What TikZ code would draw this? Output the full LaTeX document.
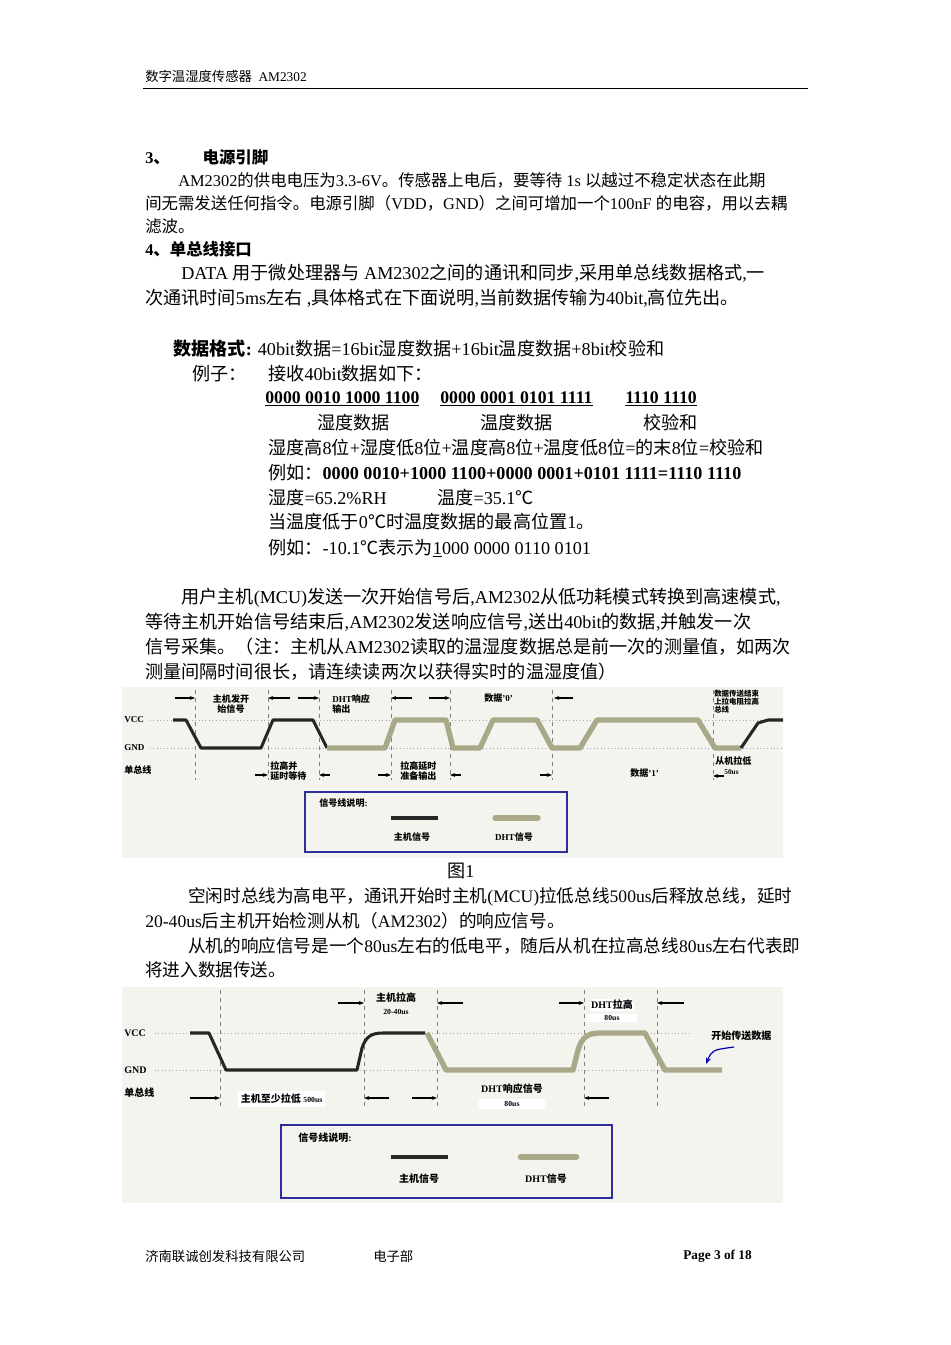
\documentclass[tikz,border=0pt]{standalone}
\usepackage{fontspec}
\usetikzlibrary{arrows.meta}
\setmainfont{Liberation Serif}
\newfontfamily\cjk{Noto Sans CJK SC}
\XeTeXinterchartokenstate=1
\newXeTeXintercharclass\cjkclass
\newcount\cc
\cc="4E00 \loop \XeTeXcharclass\cc=\cjkclass \advance\cc 1 \ifnum\cc<"9FFF \repeat
\cc="3000 \loop \XeTeXcharclass\cc=\cjkclass \advance\cc 1 \ifnum\cc<"3040 \repeat
\cc="FF00 \loop \XeTeXcharclass\cc=\cjkclass \advance\cc 1 \ifnum\cc<"FF20 \repeat
\XeTeXcharclass"2103=\cjkclass
\XeTeXinterchartoks 0 \cjkclass={\begingroup\cjk}
\XeTeXinterchartoks 4095 \cjkclass={\begingroup\cjk}
\XeTeXinterchartoks \cjkclass 0={\endgroup}
\XeTeXinterchartoks \cjkclass 4095={\endgroup}
\definecolor{dht}{HTML}{A9A98A}
\definecolor{bgc}{HTML}{F4F4EF}
\definecolor{lgb}{HTML}{2E2E9A}
\newcounter{tn}
\newcommand{\T}[4][]{\stepcounter{tn}\node[anchor=west,inner sep=0pt,#1] (t\arabic{tn}) at (#2,#3) {#4};}
\tikzset{
 body/.style={font=\fontsize{12.3}{14}\selectfont},
 big/.style={font=\fontsize{13.6}{16}\selectfont},
 mid/.style={font=\fontsize{13.2}{16}\selectfont},
 tiny/.style={font=\fontsize{6.8}{7.6}\selectfont\bfseries,align=left},
 tinyc/.style={font=\fontsize{6.8}{7.6}\selectfont\bfseries,align=center,anchor=center},
 host/.style={line width=2.3pt,black!85,line join=round},
 dhts/.style={line width=4pt,dht,line join=round},
 vdash/.style={gray,dashed,line width=0.5pt},
 hdot/.style={gray!70,dotted,line width=0.6pt},
 mk/.style={-{Stealth[length=4pt]},line width=0.8pt},
}
\begin{document}
\begin{tikzpicture}[x=0.75pt,y=-0.75pt]
\useasboundingbox (0,0) rectangle (950,1345);
\fill[white] (0,0) rectangle (950,1345);
% header
\T[font=\fontsize{10}{12}\selectfont]{145}{76}{数字温湿度传感器\ \ AM2302}
\draw[line width=0.6pt] (143,88) -- (808,88);
\T[body,font=\fontsize{12.3}{14}\selectfont\bfseries]{145}{157}{3、\qquad 电源引脚}
\T[body]{178}{180}{AM2302的供电电压为3.3-6V。传感器上电后，要等待 1s 以越过不稳定状态在此期}
\T[body]{145}{203}{间无需发送任何指令。电源引脚（VDD，GND）之间可增加一个100nF 的电容，用以去耦}
\T[body]{145}{226}{滤波。}
\T[body,font=\fontsize{12.3}{14}\selectfont\bfseries]{145}{249}{4、单总线接口}
\T[big]{181}{273}{DATA 用于微处理器与 AM2302之间的通讯和同步,采用单总线数据格式,一}
\T[big]{145}{298}{次通讯时间5ms左右 ,具体格式在下面说明,当前数据传输为40bit,高位先出。}
\T[big]{173}{349}{\textbf{数据格式:} 40bit数据=16bit湿度数据+16bit温度数据+8bit校验和}
\T[big]{192}{374}{例子：}
\T[big]{268}{374}{接收40bit数据如下：}
\T[big,font=\fontsize{13.3}{15}\selectfont\bfseries]{265}{399}{\underline{0000 0010 1000 1100}}
\T[big,font=\fontsize{13.3}{15}\selectfont\bfseries]{440}{399}{\underline{0000 0001 0101 1111}}
\T[big,font=\fontsize{13.3}{15}\selectfont\bfseries]{625}{399}{\underline{1110 1110}}
\T[big]{317}{423}{湿度数据}
\T[big]{480}{423}{温度数据}
\T[big]{643}{423}{校验和}
\T[big]{268}{448}{湿度高8位+湿度低8位+温度高8位+温度低8位=的末8位=校验和}
\T[big]{268}{473}{例如：\textbf{0000 0010+1000 1100+0000 0001+0101 1111=1110 1110}}
\T[big]{268}{498}{湿度=65.2\%RH}
\T[big]{437}{498}{温度=35.1℃}
\T[big]{268}{522}{当温度低于0℃时温度数据的最高位置1。}
\T[big]{268}{548}{例如：-10.1℃表示为\underline{1}000 0000 0110 0101}
\T[big]{181}{598}{用户主机(MCU)发送一次开始信号后,AM2302从低功耗模式转换到高速模式,}
\T[big]{145}{622}{等待主机开始信号结束后,AM2302发送响应信号,送出40bit的数据,并触发一次}
\T[big]{145}{647}{信号采集。（注：主机从AM2302读取的温湿度数据总是前一次的测量值，如两次}
\T[big]{145}{672}{测量间隔时间很长，请连续读两次以获得实时的温湿度值）}
% ---------- Figure 1
\fill[bgc] (122,687) rectangle (783,858);
\draw[hdot] (150,720) -- (783,720);
\draw[hdot] (150,748) -- (783,748);
\T[tiny]{124}{720}{VCC}
\T[tiny]{124}{748}{GND}
\T[tiny]{124}{770}{单总线}
\foreach \x in {195,268,319,391,450,552,713} \draw[vdash] (\x,690) -- (\x,780);
\draw[host] (173,720) -- (186,720) -- (201,748) -- (261,748) -- (273,720) -- (313,720) -- (327,748);
\draw[dhts] (327,748) -- (385,748) -- (395,720) -- (446,720) -- (453,748) -- (480,748) -- (493,720) -- (537,720) -- (552,748) -- (580,748) -- (597,720) -- (698,720) -- (715,748) -- (741,748);
\draw[host] (741,748) -- (758,723) -- (768,720) -- (783,720);
\draw[mk] (175,698) -- (195,698);
\draw[mk] (290,698) -- (268,698);
\draw[mk] (298,698) -- (319,698);
\draw[mk] (412,698) -- (391,698);
\draw[mk] (429,698) -- (450,698);
\draw[mk] (573,698) -- (554,698);
\draw[mk] (255,775) -- (268,775);
\draw[mk] (330,775) -- (319,775);
\draw[mk] (378,775) -- (391,775);
\draw[mk] (461,775) -- (450,775);
\draw[mk] (540,775) -- (552,775);
\draw[mk] (724,776) -- (713,776);
\T[tinyc]{231}{704}{主机发开\\始信号}
\T[tiny]{332}{704}{DHT响应\\输出}
\T[tiny]{484}{698}{数据'0'}
\T[tiny,font=\fontsize{5.6}{6}\selectfont\bfseries]{714}{702}{数据传送结束\\上拉电阻拉高\\总线}
\T[tiny]{270}{771}{拉高并\\延时等待}
\T[tiny]{400}{771}{拉高延时\\准备输出}
\T[tiny]{630}{773}{数据'1'}
\T[tiny]{715}{766}{从机拉低\\\ \ \ \ {\fontsize{5.5}{6}\selectfont 50us}}
\draw[lgb,line width=1pt] (305,792) rectangle (567,852);
\T[tiny]{319}{803}{信号线说明:}
\draw[line width=2.3pt,black!85] (391,818) -- (438,818);
\draw[line width=4pt,dht,line cap=round] (495,818) -- (538,818);
\T[tinyc]{412}{837}{主机信号}
\T[tinyc]{514}{837}{DHT信号}
\T[big]{447}{871}{图1}
\T[mid]{188}{897}{空闲时总线为高电平，通讯开始时主机(MCU)拉低总线500us后释放总线，延时}
\T[mid]{145}{921}{20-40us后主机开始检测从机（AM2302）的响应信号。}
\T[mid]{188}{946}{从机的响应信号是一个80us左右的低电平，随后从机在拉高总线80us左右代表即}
\T[mid]{145}{970}{将进入数据传送。}
% ---------- Figure 2
\fill[bgc] (122,987) rectangle (783,1203);
\draw[hdot] (155,1033) -- (690,1033);
\draw[hdot] (155,1070) -- (690,1070);
\T[tiny,font=\fontsize{7.5}{8}\selectfont\bfseries]{124}{1033}{VCC}
\T[tiny,font=\fontsize{7.5}{8}\selectfont\bfseries]{124}{1070}{GND}
\T[tiny,font=\fontsize{7.5}{8}\selectfont\bfseries]{124}{1093}{单总线}
\foreach \x in {220,364,437,584,657} \draw[vdash] (\x,990) -- (\x,1107);
\draw[host] (190,1033) -- (209,1033) -- (226,1070) -- (357,1070) -- (362,1048) .. controls (366,1036) and (372,1033) .. (383,1033) -- (425,1033);
\draw[dhts] (427,1033) -- (446,1070) -- (573,1070) -- (578,1050) .. controls (582,1037) and (588,1033) .. (600,1033) -- (645,1033) -- (665,1070) -- (722,1070);
\draw[mk] (338,1003) -- (364,1003);
\draw[mk] (463,1003) -- (437,1003);
\draw[mk] (559,1003) -- (584,1003);
\draw[mk] (684,1003) -- (657,1003);
\draw[mk] (190,1098) -- (220,1098);
\draw[mk] (389,1098) -- (364,1098);
\draw[mk] (412,1098) -- (437,1098);
\draw[mk] (609,1098) -- (584,1098);
\T[tinyc,font=\fontsize{7.5}{8}\selectfont\bfseries]{396}{998}{主机拉高}
\T[tinyc,font=\fontsize{5.8}{6}\selectfont\bfseries]{396}{1012}{20-40us}
\T[tinyc,font=\fontsize{7.5}{8}\selectfont\bfseries,fill=white,inner sep=1pt]{612}{1005}{DHT拉高}
\T[tinyc,font=\fontsize{5.8}{6}\selectfont\bfseries,fill=white,inner sep=1pt,minimum width=38pt]{612}{1018}{80us}
\T[tiny,font=\fontsize{7.5}{8}\selectfont\bfseries]{711}{1036}{开始传送数据}
\draw[-{Stealth[length=5pt]},blue!70!black,line width=0.9pt] (734,1047) .. controls (712,1050) .. (706,1064);
\T[tiny,font=\fontsize{7.5}{8}\selectfont\bfseries,fill=white,inner sep=2pt]{238}{1099}{主机至少拉低 {\fontsize{5.8}{6}\selectfont 500us}}
\T[tinyc,font=\fontsize{7.5}{8}\selectfont\bfseries]{512}{1089}{DHT响应信号}
\T[tinyc,font=\fontsize{5.8}{6}\selectfont\bfseries,fill=white,minimum width=50pt,inner sep=2pt]{512}{1104}{80us}
\draw[lgb,line width=1pt] (281,1125) rectangle (612,1198);
\T[tiny,font=\fontsize{7.5}{8}\selectfont\bfseries]{298}{1138}{信号线说明:}
\draw[line width=2.6pt,black!85] (391,1157) -- (448,1157);
\draw[line width=5pt,dht,line cap=round] (521,1157) -- (576,1157);
\T[tinyc,font=\fontsize{7.5}{8}\selectfont\bfseries]{419}{1179}{主机信号}
\T[tinyc,font=\fontsize{7.5}{8}\selectfont\bfseries]{546}{1179}{DHT信号}
% footer
\T[font=\fontsize{10}{12}\selectfont]{145}{1256}{济南联诚创发科技有限公司}
\T[font=\fontsize{10}{12}\selectfont]{373}{1256}{电子部}
\T[font=\fontsize{10}{12}\selectfont\bfseries]{683}{1256}{Page 3 of 18}
\end{tikzpicture}
\end{document}
